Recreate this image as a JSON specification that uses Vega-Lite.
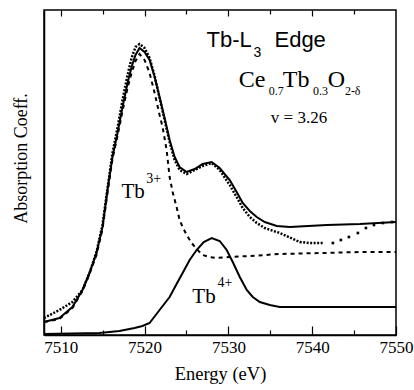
{
  "$schema": "https://vega.github.io/schema/vega-lite/v6.json",
  "width": 352,
  "height": 325,
  "autosize": "none",
  "padding": {"left": 44, "top": 10, "right": 18, "bottom": 55},
  "background": "white",
  "config": {
    "view": {"stroke": "black", "strokeWidth": 1.5},
    "axis": {"domainColor": "black", "tickColor": "black", "labelColor": "black", "titleColor": "black", "grid": false, "labelFont": "Liberation Serif", "titleFont": "Liberation Serif", "titleFontWeight": 400, "domainWidth": 1.5, "tickWidth": 1.2, "labelFontSize": 17, "titleFontSize": 18.5}
  },
  "datasets": {
    "fit": [
      {"E": 7508.0, "v": 13}, {"E": 7509.84, "v": 17}, {"E": 7511.39, "v": 28}, {"E": 7512.59, "v": 45},
      {"E": 7513.43, "v": 62}, {"E": 7514.26, "v": 82}, {"E": 7514.98, "v": 108}, {"E": 7515.58, "v": 145},
      {"E": 7516.17, "v": 178}, {"E": 7516.77, "v": 202}, {"E": 7517.37, "v": 228}, {"E": 7517.97, "v": 252},
      {"E": 7518.45, "v": 268}, {"E": 7518.92, "v": 280}, {"E": 7519.4, "v": 287}, {"E": 7520.0, "v": 283},
      {"E": 7520.6, "v": 275}, {"E": 7521.2, "v": 258}, {"E": 7521.79, "v": 238}, {"E": 7522.39, "v": 217},
      {"E": 7522.99, "v": 195}, {"E": 7523.59, "v": 178}, {"E": 7524.18, "v": 168}, {"E": 7525.02, "v": 163},
      {"E": 7525.98, "v": 166}, {"E": 7526.93, "v": 171}, {"E": 7528.01, "v": 173}, {"E": 7528.96, "v": 167},
      {"E": 7530.16, "v": 155}, {"E": 7530.99, "v": 143}, {"E": 7531.71, "v": 132}, {"E": 7532.55, "v": 124},
      {"E": 7533.38, "v": 118}, {"E": 7534.34, "v": 113}, {"E": 7535.77, "v": 109}, {"E": 7537.33, "v": 108},
      {"E": 7541.75, "v": 110}, {"E": 7545.69, "v": 111}, {"E": 7550.0, "v": 113}
    ],
    "meas": [
      {"E": 7508.0, "v": 17}, {"E": 7509.84, "v": 25}, {"E": 7511.39, "v": 33}, {"E": 7512.59, "v": 45},
      {"E": 7513.43, "v": 62}, {"E": 7514.26, "v": 83}, {"E": 7514.98, "v": 110}, {"E": 7515.58, "v": 147},
      {"E": 7516.17, "v": 182}, {"E": 7516.77, "v": 207}, {"E": 7517.37, "v": 235}, {"E": 7517.97, "v": 260},
      {"E": 7518.45, "v": 277}, {"E": 7518.92, "v": 288}, {"E": 7519.4, "v": 291}, {"E": 7520.0, "v": 287},
      {"E": 7520.6, "v": 277}, {"E": 7521.2, "v": 259}, {"E": 7521.79, "v": 237}, {"E": 7522.39, "v": 215},
      {"E": 7522.99, "v": 193}, {"E": 7523.59, "v": 175}, {"E": 7524.18, "v": 165}, {"E": 7525.02, "v": 161},
      {"E": 7525.98, "v": 165}, {"E": 7526.93, "v": 169}, {"E": 7528.01, "v": 172}, {"E": 7528.96, "v": 165},
      {"E": 7530.16, "v": 150}, {"E": 7530.99, "v": 138}, {"E": 7531.71, "v": 127}, {"E": 7532.55, "v": 118},
      {"E": 7533.38, "v": 112}, {"E": 7534.34, "v": 107}, {"E": 7536.13, "v": 102}, {"E": 7538.52, "v": 93},
      {"E": 7539.72, "v": 92}, {"E": 7541.27, "v": 92}
    ],
    "measTail": [
      {"E": 7542.47, "v": 92}, {"E": 7543.42, "v": 95}, {"E": 7544.38, "v": 98}, {"E": 7545.45, "v": 102},
      {"E": 7546.41, "v": 107}, {"E": 7547.37, "v": 110}, {"E": 7548.44, "v": 112}, {"E": 7549.52, "v": 113}
    ],
    "tb3": [
      {"E": 7508.0, "v": 13}, {"E": 7509.84, "v": 16}, {"E": 7511.39, "v": 27}, {"E": 7512.59, "v": 44},
      {"E": 7513.43, "v": 61}, {"E": 7514.26, "v": 80}, {"E": 7514.98, "v": 106}, {"E": 7515.58, "v": 142},
      {"E": 7516.17, "v": 176}, {"E": 7516.77, "v": 199}, {"E": 7517.37, "v": 224}, {"E": 7517.97, "v": 247},
      {"E": 7518.45, "v": 262}, {"E": 7518.92, "v": 274}, {"E": 7519.4, "v": 281}, {"E": 7520.0, "v": 275},
      {"E": 7520.6, "v": 262}, {"E": 7521.2, "v": 242}, {"E": 7521.79, "v": 220}, {"E": 7522.15, "v": 208},
      {"E": 7522.63, "v": 185}, {"E": 7522.99, "v": 158}, {"E": 7523.35, "v": 143}, {"E": 7523.82, "v": 128},
      {"E": 7524.18, "v": 115}, {"E": 7524.54, "v": 108}, {"E": 7525.02, "v": 100}, {"E": 7525.62, "v": 92},
      {"E": 7526.21, "v": 86}, {"E": 7526.93, "v": 80}, {"E": 7527.77, "v": 78}, {"E": 7528.61, "v": 77},
      {"E": 7530.16, "v": 78}, {"E": 7532.55, "v": 79}, {"E": 7536.13, "v": 81}, {"E": 7541.15, "v": 82},
      {"E": 7545.69, "v": 83}, {"E": 7550.0, "v": 83}
    ],
    "tb4": [
      {"E": 7508.0, "v": 1}, {"E": 7514.6, "v": 2}, {"E": 7517.0, "v": 4}, {"E": 7518.8, "v": 7},
      {"E": 7519.75, "v": 9}, {"E": 7520.6, "v": 12}, {"E": 7521.79, "v": 25}, {"E": 7522.99, "v": 38},
      {"E": 7523.82, "v": 51}, {"E": 7524.54, "v": 62}, {"E": 7525.38, "v": 75}, {"E": 7526.21, "v": 85},
      {"E": 7527.06, "v": 93}, {"E": 7528.01, "v": 97}, {"E": 7528.96, "v": 94}, {"E": 7529.8, "v": 85},
      {"E": 7530.52, "v": 73}, {"E": 7531.36, "v": 58}, {"E": 7532.19, "v": 45}, {"E": 7532.91, "v": 38},
      {"E": 7533.75, "v": 33}, {"E": 7534.94, "v": 30}, {"E": 7536.13, "v": 28}, {"E": 7550.0, "v": 28}
    ],
    "sansBig": [{"t": "Tb-L", "E": 7527.4, "v": 288}, {"t": "Edge", "E": 7535.5, "v": 288}],
    "sansSub": [{"t": "3", "E": 7533.0, "v": 278}],
    "formulaBig": [{"t": "Ce", "E": 7531.23, "v": 248}, {"t": "Tb", "E": 7536.5, "v": 248}, {"t": "O", "E": 7541.86, "v": 248}],
    "formulaSub": [{"t": "0.7", "E": 7534.83, "v": 240}, {"t": "0.3", "E": 7540.09, "v": 240}, {"t": "2-δ", "E": 7543.9, "v": 240}],
    "nu": [{"t": "v = 3.26", "E": 7535.07, "v": 212}],
    "ion": [{"t": "Tb", "E": 7517.25, "v": 137}, {"t": "Tb", "E": 7525.7, "v": 32}],
    "ionSup": [{"t": "3+", "E": 7520.2, "v": 152}, {"t": "4+", "E": 7528.7, "v": 48}]
  },
  "layer": [
    {
      "data": {"name": "fit"},
      "mark": {"type": "line", "color": "black", "strokeWidth": 2},
      "encoding": {
        "x": {"field": "E", "type": "quantitative", "scale": {"domain": [7508, 7550], "nice": false, "zero": false},
              "axis": {"orient": "bottom", "values": [7510, 7520, 7530, 7540, 7550], "format": "d", "tickSize": -9, "labelPadding": 13, "title": null, "labelFlush": false}},
        "y": {"field": "v", "type": "quantitative", "scale": {"domain": [0, 325], "nice": false},
              "axis": {"orient": "left", "ticks": false, "labels": false, "title": "Absorption Coeff.", "titleFontSize": 18, "titleFontWeight": 400, "titlePadding": 14, "titleY": 148}}
      }
    },
    {
      "data": {"name": "tb4"},
      "mark": {"type": "line", "color": "black", "strokeWidth": 2},
      "encoding": {
        "x": {"field": "E", "type": "quantitative",
              "axis": {"orient": "bottom", "values": [7515, 7525, 7535, 7545], "tickSize": -5, "labels": false, "domain": false, "title": "Energy (eV)", "titleFontWeight": 400, "titlePadding": 29}},
        "y": {"field": "v", "type": "quantitative", "axis": null}
      }
    },
    {
      "data": {"name": "tb3"},
      "mark": {"type": "line", "color": "black", "strokeWidth": 2, "strokeDash": [4, 4]},
      "encoding": {
        "x": {"field": "E", "type": "quantitative",
              "axis": {"orient": "top", "values": [7510, 7520, 7530, 7540], "tickSize": -6, "labels": false, "domain": false, "title": null}},
        "y": {"field": "v", "type": "quantitative", "axis": null}
      }
    },
    {
      "data": {"name": "meas"},
      "mark": {"type": "line", "color": "black", "strokeWidth": 2.5, "strokeDash": [2, 1.5]},
      "encoding": {
        "x": {"field": "E", "type": "quantitative",
              "axis": {"orient": "top", "values": [7515, 7525, 7535, 7545], "tickSize": -4, "labels": false, "domain": false, "title": null}},
        "y": {"field": "v", "type": "quantitative", "axis": null}
      }
    },
    {
      "data": {"name": "measTail"},
      "mark": {"type": "point", "shape": "square", "filled": true, "color": "black", "size": 7, "opacity": 1},
      "encoding": {
        "x": {"field": "E", "type": "quantitative", "axis": null},
        "y": {"field": "v", "type": "quantitative", "axis": null}
      }
    },
    {
      "data": {"name": "sansBig"},
      "mark": {"type": "text", "font": "Liberation Sans", "fontSize": 22, "align": "left", "baseline": "alphabetic", "color": "black"},
      "encoding": {"x": {"field": "E", "type": "quantitative", "axis": null}, "y": {"field": "v", "type": "quantitative", "axis": null}, "text": {"field": "t"}}
    },
    {
      "data": {"name": "sansSub"},
      "mark": {"type": "text", "font": "Liberation Sans", "fontSize": 14, "align": "left", "baseline": "alphabetic", "color": "black"},
      "encoding": {"x": {"field": "E", "type": "quantitative", "axis": null}, "y": {"field": "v", "type": "quantitative", "axis": null}, "text": {"field": "t"}}
    },
    {
      "data": {"name": "formulaBig"},
      "mark": {"type": "text", "font": "Liberation Serif", "fontSize": 24, "align": "left", "baseline": "alphabetic", "color": "black"},
      "encoding": {"x": {"field": "E", "type": "quantitative", "axis": null}, "y": {"field": "v", "type": "quantitative", "axis": null}, "text": {"field": "t"}}
    },
    {
      "data": {"name": "formulaSub"},
      "mark": {"type": "text", "font": "Liberation Serif", "fontSize": 12, "align": "left", "baseline": "alphabetic", "color": "black"},
      "encoding": {"x": {"field": "E", "type": "quantitative", "axis": null}, "y": {"field": "v", "type": "quantitative", "axis": null}, "text": {"field": "t"}}
    },
    {
      "data": {"name": "nu"},
      "mark": {"type": "text", "font": "Liberation Serif", "fontSize": 17, "align": "left", "baseline": "alphabetic", "color": "black"},
      "encoding": {"x": {"field": "E", "type": "quantitative", "axis": null}, "y": {"field": "v", "type": "quantitative", "axis": null}, "text": {"field": "t"}}
    },
    {
      "data": {"name": "ion"},
      "mark": {"type": "text", "font": "Liberation Serif", "fontSize": 21, "align": "left", "baseline": "alphabetic", "color": "black"},
      "encoding": {"x": {"field": "E", "type": "quantitative", "axis": null}, "y": {"field": "v", "type": "quantitative", "axis": null}, "text": {"field": "t"}}
    },
    {
      "data": {"name": "ionSup"},
      "mark": {"type": "text", "font": "Liberation Serif", "fontSize": 14, "align": "left", "baseline": "alphabetic", "color": "black"},
      "encoding": {"x": {"field": "E", "type": "quantitative", "axis": null}, "y": {"field": "v", "type": "quantitative", "axis": null}, "text": {"field": "t"}}
    }
  ],
  "resolve": {"axis": {"x": "independent", "y": "independent"}}
}
